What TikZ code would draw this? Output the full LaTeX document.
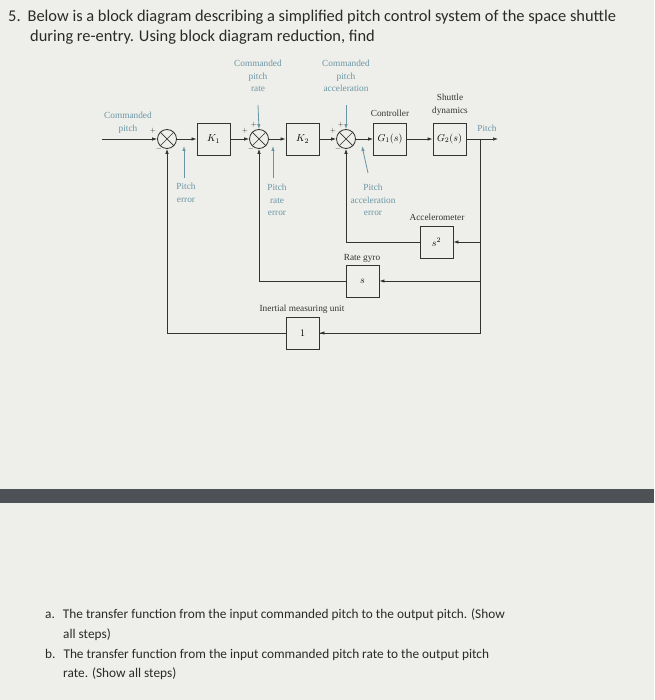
\documentclass[tikz,border=0pt]{standalone}
\usepackage{fontspec}
\setmainfont{Liberation Serif}
\newfontfamily\qfont{Carlito}
\usetikzlibrary{arrows.meta}
\definecolor{bg}{HTML}{EEEEEA}
\definecolor{lab}{HTML}{6A96A4}
\definecolor{ln}{HTML}{333333}
\definecolor{band}{HTML}{4E5256}
\definecolor{qt}{HTML}{2A2A2A}
\tikzset{
 blk/.style={draw=ln,line width=0.9pt,minimum width=33pt,minimum height=32pt,inner sep=0pt,font=\fontsize{10}{11}\selectfont},
 sumj/.style={draw=ln,circle,line width=0.8pt,minimum size=19pt,inner sep=0pt},
 sig/.style={draw=ln,line width=0.7pt,-{Latex[length=5pt,width=3.5pt]}},
 fb/.style={draw=ln,line width=0.7pt},
 ptr/.style={draw=lab,line width=0.8pt,-{Latex[length=5pt,width=3.5pt]}},
 lbl/.style={text=lab,font=\fontsize{9.3}{12.5}\selectfont,align=center,inner sep=0pt},
 blab/.style={text=ln,font=\fontsize{9.3}{12.5}\selectfont,align=center,inner sep=0pt},
 sg/.style={text=ln,font=\fontsize{7}{8}\selectfont,inner sep=0pt},
 htext/.style={text=qt,font=\qfont\fontsize{16.4}{20}\selectfont,anchor=base west,inner sep=0pt},
 qtext/.style={text=qt,font=\qfont\fontsize{13.3}{20}\selectfont,anchor=base west,inner sep=0pt}
}
\begin{document}
\begin{tikzpicture}[x=1pt,y=-1pt]
\fill[bg] (0,0) rectangle (654,700);
\useasboundingbox (0,0) rectangle (654,700);
\fill[band] (0,489) rectangle (654,503);
% header
\node[htext] (h1) at (8,22) {5.\hspace{7pt}Below is a block diagram describing a simplified pitch control system of the space shuttle};
\node[htext] (h2) at (30,42) {during re-entry. Using block diagram reduction, find};
% questions
\node[qtext] (qa1) at (45,618) {a.\hspace{8pt}The transfer function from the input commanded pitch to the output pitch. (Show};
\node[qtext] (qa2) at (63,638) {all steps)};
\node[qtext] (qb1) at (45,658) {b.\hspace{8pt}The transfer function from the input commanded pitch rate to the output pitch};
\node[qtext] (qb2) at (63,677) {rate. (Show all steps)};
% diagram
\coordinate (in) at (102,139);
\node[sumj] (s1) at (167,139) {};
\node[blk] (k1) at (213.5,139) {$K_1$};
\node[sumj] (s2) at (259,139) {};
\node[blk] (k2) at (302.5,139) {$K_2$};
\node[sumj] (s3) at (346,139) {};
\node[blk] (g1) at (390,139) {$G_1(s)$};
\node[blk] (g2) at (449.5,139) {$G_2(s)$};
\coordinate (out) at (498,139);
\coordinate (br) at (480,139);
\node[blk] (acc) at (436.5,242) {$s^2$};
\node[blk] (gyro) at (362.5,281) {$s$};
\node[blk] (imu) at (302.5,333) {$1$};
\foreach \s in {s1,s2,s3}{
 \draw[ln,line width=0.7pt] (\s.north west)--(\s.south east) (\s.north east)--(\s.south west);}
\draw[sig] (in)--(s1);
\draw[sig] (s1)--(k1);
\draw[sig] (k1)--(s2);
\draw[sig] (s2)--(k2);
\draw[sig] (k2)--(s3);
\draw[sig] (s3)--(g1);
\draw[sig] (g1)--(g2);
\draw[sig] (g2)--(out);
\draw[fb] (br)|-(imu.east) ;
\draw[sig] (br|-acc.east)--(acc.east);
\draw[sig] (br|-gyro.east)--(gyro.east);
\draw[sig] (br|-imu.east)--(imu.east);
\draw[sig] (acc.west)-|(s3.south);
\draw[sig] (gyro.west)-|(s2.south);
\draw[sig] (imu.west)-|(s1.south);
% signs
\node[sg] (p1) at (153,131) {$+$};
\node[sg] (m1) at (159,149) {$-$};
\node[sg] (p2) at (245,131) {$+$};
\node[sg] (p2b) at (254,125) {$+$};
\node[sg] (m2) at (251,149) {$-$};
\node[sg] (p3) at (333,131) {$+$};
\node[sg] (p3b) at (341,125) {$+$};
\node[sg] (m3) at (338,149) {$-$};
% labels
\node[lbl] (cp) at (128,123) {Commanded\\pitch};
\node[lbl] (cpr) at (258,76) {Commanded\\pitch\\rate};
\node[lbl] (cpa) at (346,76) {Commanded\\pitch\\acceleration};
\coordinate (cprt) at (258,105);
\coordinate (cpat) at (346,105);
\draw[ptr] (cprt)--(s2.north);
\draw[ptr] (cpat)--(s3.north);
\node[lbl] (pe) at (186,193) {Pitch\\error};
\node[lbl] (pre) at (277,200) {Pitch\\rate\\error};
\node[lbl] (pae) at (373,200) {Pitch\\acceleration\\error};
\coordinate (pea) at (184,178); \coordinate (peb) at (184,146);
\coordinate (prea) at (273,178); \coordinate (preb) at (273,146);
\coordinate (paea) at (368,173); \coordinate (paeb) at (362,146);
\draw[ptr] (pea)--(peb);
\draw[ptr] (prea)--(preb);
\draw[ptr] (paea)--(paeb);
\node[lbl] (pout) at (487,128) {Pitch};
\node[blab] (ctl) at (390,113) {Controller};
\node[blab] (shd) at (450,105) {Shuttle\\dynamics};
\node[blab] (acl) at (437,217) {Accelerometer};
\node[blab] (grl) at (362,258) {Rate gyro};
\node[blab] (iml) at (302,309) {Inertial measuring unit};
\end{tikzpicture}
\end{document}
